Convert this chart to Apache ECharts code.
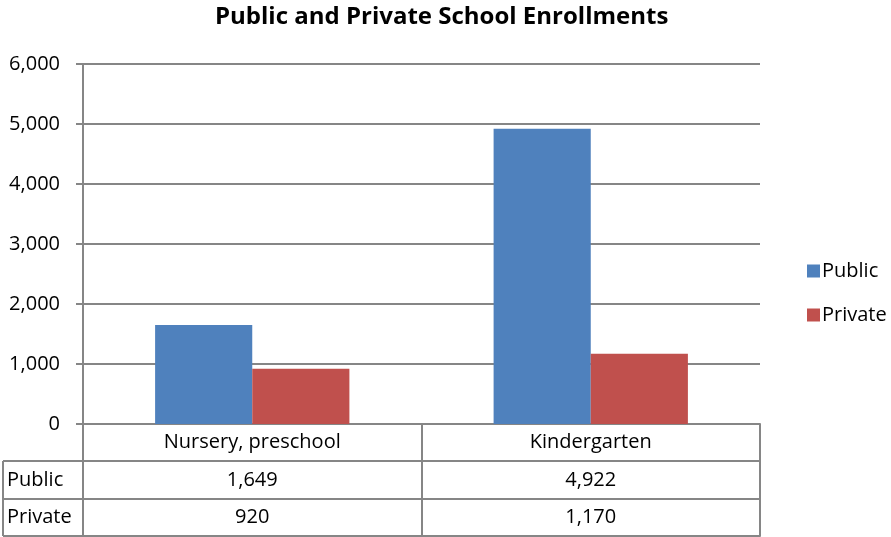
<!DOCTYPE html>
<html>
<head>
<meta charset="utf-8">
<script src="https://cdn.jsdelivr.net/npm/echarts@6/dist/echarts.min.js"></script>
<style>
  html, body { margin: 0; padding: 0; background: #fff; }
  #chart { width: 891px; height: 537px; }
</style>
</head>
<body>
<div id="chart"></div>
<script>
// Enrollment figures by school level
const categories = ['Nursery, preschool', 'Kindergarten'];
const publicValues = [1649, 4922];
const privateValues = [920, 1170];
const seriesNames = ['Public', 'Private'];
const yTicks = { min: 0, max: 6000, interval: 1000 };

const FONT = '"Open Sans", Lato, sans-serif';
const FS = 20;
const LINE = '#868686';
const fmt = v => v.toLocaleString('en-US');

// Layout of the plot and the data table underneath it
const plotLeft = 83, plotRight = 760, plotTop = 64, plotBottom = 424;
const rowH = [37, 38, 37];
const tableLeft = 3;

const chart = echarts.init(document.getElementById('chart'), null, { renderer: 'canvas' });

// One category axis per table row: the first shows the category names,
// the others show the value of each series in that row.
function tableAxis(data, offset, tickLen) {
  return {
    type: 'category',
    data: data,
    position: 'bottom',
    offset: offset,
    boundaryGap: true,
    axisLine: { show: true, lineStyle: { color: LINE, width: 2 } },
    axisTick: { show: true, interval: 0, alignWithLabel: false, inside: false, length: tickLen, lineStyle: { color: LINE, width: 2 } },
    axisLabel: {
      show: true, interval: 0, margin: tickLen / 2, verticalAlign: 'middle',
      color: '#000', fontFamily: FONT, fontSize: FS
    },
    splitLine: { show: false }
  };
}

const option = {
  animation: false,
  backgroundColor: '#fff',
  title: {
    text: 'Public and Private School Enrollments',
    left: 210,
    top: 0,
    textStyle: { fontFamily: FONT, fontWeight: 'bold', fontSize: 24, color: '#000' }
  },
  legend: {
    orient: 'vertical',
    left: 802,
    top: 256,
    itemWidth: 13,
    itemHeight: 13,
    itemGap: 24,
    icon: 'rect',
    textStyle: { fontFamily: FONT, fontSize: FS, color: '#000', padding: [0, 0, 0, -3] },
    data: seriesNames
  },
  grid: {
    left: plotLeft,
    right: 891 - plotRight,
    top: plotTop,
    bottom: 537 - plotBottom,
    containLabel: false
  },
  xAxis: [
    tableAxis(categories, 0, rowH[0]),
    tableAxis(publicValues.map(fmt), rowH[0], rowH[1]),
    tableAxis(privateValues.map(fmt), rowH[0] + rowH[1], rowH[2]),
    Object.assign(tableAxis(['', ''], rowH[0] + rowH[1] + rowH[2], 0), {
      axisTick: { show: false }, axisLabel: { show: false }
    })
  ],
  yAxis: {
    type: 'value',
    min: yTicks.min,
    max: yTicks.max,
    interval: yTicks.interval,
    axisLine: { show: true, lineStyle: { color: LINE, width: 2 } },
    axisTick: { show: true, length: 7, lineStyle: { color: LINE, width: 2 } },
    axisLabel: { margin: 23, color: '#000', fontFamily: FONT, fontSize: FS, formatter: v => fmt(v) },
    splitLine: { show: true, lineStyle: { color: LINE, width: 2 } }
  },
  series: [
    {
      name: seriesNames[0], type: 'bar', xAxisIndex: 0, data: publicValues,
      barGap: '0%', barCategoryGap: '42.6%',
      itemStyle: { color: '#4F81BD' }
    },
    {
      name: seriesNames[1], type: 'bar', xAxisIndex: 0, data: privateValues,
      barGap: '0%', barCategoryGap: '42.6%',
      itemStyle: { color: '#C0504D' }
    }
  ]
};

chart.setOption(option);

// Row-header column of the data table (series names on the left)
const r1 = plotBottom + rowH[0];
const r2 = r1 + rowH[1];
const r3 = r2 + rowH[2];
const lineStyle = { stroke: LINE, lineWidth: 2 };
chart.setOption({
  graphic: [
    { type: 'line', shape: { x1: tableLeft, y1: r1, x2: plotLeft, y2: r1 }, style: lineStyle },
    { type: 'line', shape: { x1: tableLeft, y1: r2, x2: plotLeft, y2: r2 }, style: lineStyle },
    { type: 'line', shape: { x1: tableLeft, y1: r3, x2: plotLeft, y2: r3 }, style: lineStyle },
    { type: 'line', shape: { x1: tableLeft, y1: r1, x2: tableLeft, y2: r3 }, style: lineStyle },
    { type: 'text', x: tableLeft + 4, y: (r1 + r2) / 2,
      style: { text: seriesNames[0], fill: '#000', font: FS + 'px ' + FONT, textVerticalAlign: 'middle' } },
    { type: 'text', x: tableLeft + 4, y: (r2 + r3) / 2,
      style: { text: seriesNames[1], fill: '#000', font: FS + 'px ' + FONT, textVerticalAlign: 'middle' } }
  ]
});
</script>
</body>
</html>
